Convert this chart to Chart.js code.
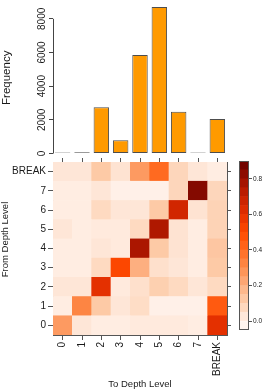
<!DOCTYPE html>
<html>
<head>
<meta charset="utf-8">
<script src="https://cdn.jsdelivr.net/npm/chart.js@4.4.1/dist/chart.umd.min.js"></script>
<style>
  html, body { margin: 0; padding: 0; background: #fff; }
  #wrap { position: relative; width: 266px; height: 390px; }
  canvas { position: absolute; left: 0; top: 0; }
</style>
</head>
<body>
<div id="wrap">
  <canvas id="barChart" width="266" height="390"></canvas>
  <canvas id="heatChart" width="266" height="390"></canvas>
  <canvas id="keyChart" width="266" height="390"></canvas>
</div>
<script>
// depth levels (columns = "to", rows = "from")
const toLevels = ['0', '1', '2', '3', '4', '5', '6', '7', 'BREAK'];
const fromLevels = ['0', '1', '2', '3', '4', '5', '6', '7', 'BREAK'];

// top histogram: how often each "to" level occurs
const frequency = [60, 80, 2750, 780, 5850, 8700, 2480, 60, 2050];
const freqTicks = [0, 2000, 4000, 6000, 8000];

// transition matrix, one row per "from" level (bottom to top)
const row0     = [0.26, 0.03, 0.01, 0.01, 0.02, 0.02, 0.02, 0.01, 0.60];
const row1     = [0.01, 0.32, 0.12, 0.03, 0.06, 0.00, 0.00, 0.00, 0.45];
const row2     = [0.03, 0.03, 0.60, 0.02, 0.05, 0.10, 0.07, 0.03, 0.07];
const row3     = [0.01, 0.01, 0.07, 0.51, 0.20, 0.05, 0.03, 0.01, 0.12];
const row4     = [0.01, 0.01, 0.03, 0.02, 0.76, 0.12, 0.04, 0.01, 0.13];
const row5     = [0.03, 0.01, 0.02, 0.02, 0.07, 0.75, 0.04, 0.01, 0.09];
const row6     = [0.01, 0.01, 0.07, 0.03, 0.03, 0.12, 0.66, 0.04, 0.09];
const row7     = [0.01, 0.01, 0.03, 0.00, 0.00, 0.00, 0.08, 0.84, 0.08];
const rowBreak = [0.03, 0.03, 0.12, 0.04, 0.26, 0.40, 0.08, 0.03, 0.01];
const transition = [row0, row1, row2, row3, row4, row5, row6, row7, rowBreak];

// colour key
const keyBreaks = [-0.05, 0, 0.05, 0.1, 0.15, 0.2, 0.25, 0.3, 0.35, 0.4, 0.45,
                   0.5, 0.55, 0.6, 0.65, 0.7, 0.75, 0.8, 0.85, 0.9];
const keyTicks = [0, 0.2, 0.4, 0.6, 0.8];

const FONT = 'Liberation Sans, Arial, Helvetica, sans-serif';
const axisGrey = '#555555';
const textCol = '#1a1a1a';

// colour ramp white -> orange -> dark red
const ramp = [
  [-0.05, [255, 248, 244]],
  [0.00, [255, 240, 232]],
  [0.05, [254, 224, 204]],
  [0.10, [253, 208, 176]],
  [0.15, [253, 192, 152]],
  [0.20, [253, 175, 128]],
  [0.30, [253, 140, 76]],
  [0.40, [255, 106, 32]],
  [0.50, [255, 74, 0]],
  [0.60, [228, 48, 0]],
  [0.70, [196, 32, 0]],
  [0.80, [154, 16, 0]],
  [0.90, [100, 0, 0]]
];
function heatColor(v) {
  if (v <= ramp[0][0]) return 'rgb(' + ramp[0][1].join(',') + ')';
  for (let i = 1; i < ramp.length; i++) {
    if (v <= ramp[i][0]) {
      const t = (v - ramp[i - 1][0]) / (ramp[i][0] - ramp[i - 1][0]);
      const a = ramp[i - 1][1], b = ramp[i][1];
      return 'rgb(' + a.map((c, k) => Math.round(c + (b[k] - c) * t)).join(',') + ')';
    }
  }
  return 'rgb(' + ramp[ramp.length - 1][1].join(',') + ')';
}

// R style y axis line: only from first to last tick
const axisLinePlugin = {
  id: 'axisLine',
  afterDraw(chart) {
    const y = chart.scales.y;
    const ctx = chart.ctx;
    ctx.save();
    ctx.strokeStyle = '#444';
    ctx.lineWidth = 1;
    ctx.beginPath();
    const x = Math.round(chart.chartArea.left) + 0.5;
    ctx.moveTo(x, y.getPixelForValue(freqTicks[0]));
    ctx.lineTo(x, y.getPixelForValue(freqTicks[freqTicks.length - 1]));
    ctx.stroke();
    ctx.restore();
  }
};

// frame around the colour key
const framePlugin = {
  id: 'frame',
  afterDatasetsDraw(chart) {
    const a = chart.chartArea;
    const ctx = chart.ctx;
    ctx.save();
    ctx.strokeStyle = axisGrey;
    ctx.lineWidth = 1;
    ctx.strokeRect(Math.round(a.left) + 0.5, Math.round(a.top) + 0.5,
      Math.round(a.right - a.left) - 1, Math.round(a.bottom - a.top) - 1);
    ctx.restore();
  }
};

// side label for the heatmap
const sideLabelPlugin = {
  id: 'sideLabel',
  afterDraw(chart) {
    const ctx = chart.ctx;
    const a = chart.chartArea;
    ctx.save();
    ctx.translate(5.5, (a.top + a.bottom) / 2 - 9);
    ctx.rotate(-Math.PI / 2);
    ctx.font = '9.5px ' + FONT;
    ctx.fillStyle = textCol;
    ctx.textAlign = 'center';
    ctx.textBaseline = 'middle';
    ctx.fillText('From Depth Level', 0, 0);
    ctx.restore();
  }
};

// ---------- top histogram ----------
new Chart(document.getElementById('barChart'), {
  type: 'bar',
  data: {
    labels: toLevels,
    datasets: [{
      data: frequency,
      backgroundColor: '#FF9A00',
      borderColor: '#4d4d4d',
      borderWidth: 1,
      borderSkipped: false,
      barPercentage: 0.8,
      categoryPercentage: 1
    }]
  },
  options: {
    responsive: false,
    animation: false,
    events: [],
    layout: { padding: { top: 2, bottom: 236.5, right: 39, left: 0 } },
    plugins: { legend: { display: false }, tooltip: { enabled: false } },
    scales: {
      x: { display: false },
      y: {
        min: 0,
        max: 9000,
        afterBuildTicks: s => { s.ticks = freqTicks.map(v => ({ value: v })); },
        afterFit: s => { s.width = 53; },
        border: { display: false },
        grid: { drawOnChartArea: false, tickLength: 4, color: '#444' },
        ticks: {
          minRotation: 90,
          crossAlign: 'center',
          padding: -4,
          color: textCol,
          font: { size: 10, family: FONT },
          callback: v => String(v)
        },
        title: {
          display: true,
          text: 'Frequency',
          color: textCol,
          padding: 0,
          font: { size: 11.5, family: FONT }
        }
      }
    }
  },
  plugins: [axisLinePlugin]
});

// ---------- transition heatmap ----------
new Chart(document.getElementById('heatChart'), {
  type: 'bar',
  data: {
    labels: toLevels,
    datasets: fromLevels.map((lvl, r) => ({
      label: lvl,
      data: toLevels.map(() => [r, r + 1]),
      backgroundColor: transition[r].map(heatColor),
      borderWidth: 0,
      barPercentage: 1,
      categoryPercentage: 1,
      grouped: false
    }))
  },
  options: {
    responsive: false,
    animation: false,
    events: [],
    layout: { padding: 0 },
    plugins: { legend: { display: false }, tooltip: { enabled: false } },
    scales: {
      x: {
        type: 'category',
        position: 'bottom',
        offset: true,
        afterFit: s => { s.height = 55; },
        border: { color: axisGrey },
        grid: { offset: false, drawOnChartArea: false, tickLength: 5, color: axisGrey },
        ticks: { minRotation: 90, maxRotation: 90, padding: 2, color: textCol, font: { size: 10, family: FONT } },
        title: { display: true, text: 'To Depth Level', color: textCol, padding: 0, font: { size: 9.5, family: FONT } }
      },
      x2: {
        type: 'category',
        position: 'top',
        offset: true,
        afterFit: s => { s.height = 162; },
        border: { color: axisGrey },
        grid: { offset: false, drawOnChartArea: false, tickLength: 4, color: axisGrey },
        ticks: { display: false }
      },
      y: {
        type: 'linear',
        position: 'left',
        min: 0,
        max: fromLevels.length,
        afterBuildTicks: s => { s.ticks = fromLevels.map((l, i) => ({ value: i + 0.5 })); },
        afterFit: s => { s.width = 53; },
        border: { color: axisGrey },
        grid: { drawOnChartArea: false, tickLength: 5, color: axisGrey },
        ticks: {
          padding: 2,
          color: textCol,
          font: { size: 10, family: FONT },
          callback: (v) => fromLevels[Math.floor(v)]
        }
      },
      y2: {
        type: 'linear',
        position: 'right',
        min: 0,
        max: fromLevels.length,
        afterBuildTicks: s => { s.ticks = fromLevels.map((l, i) => ({ value: i + 0.5 })); },
        afterFit: s => { s.width = 39; },
        border: { color: axisGrey },
        grid: { drawOnChartArea: false, tickLength: 4, color: axisGrey },
        ticks: { display: false }
      }
    }
  },
  plugins: [sideLabelPlugin]
});

// ---------- colour key ----------
const bands = keyBreaks.slice(0, -1).map((lo, i) => [lo, keyBreaks[i + 1]]);
new Chart(document.getElementById('keyChart'), {
  type: 'bar',
  data: {
    labels: [''],
    datasets: bands.map(b => ({
      data: [b],
      backgroundColor: heatColor((b[0] + b[1]) / 2),
      borderWidth: 0,
      barPercentage: 1,
      categoryPercentage: 1,
      grouped: false
    }))
  },
  options: {
    responsive: false,
    animation: false,
    events: [],
    layout: { padding: { left: 239, top: 161, bottom: 60, right: 0 } },
    plugins: { legend: { display: false }, tooltip: { enabled: false } },
    scales: {
      x: { display: false },
      y: {
        position: 'right',
        min: keyBreaks[0],
        max: keyBreaks[keyBreaks.length - 1],
        afterBuildTicks: s => { s.ticks = keyTicks.map(v => ({ value: v })); },
        afterFit: s => { s.width = 17; },
        border: { display: false },
        grid: { drawOnChartArea: false, tickLength: 3, color: axisGrey },
        ticks: {
          padding: 1,
          color: textCol,
          font: { size: 6.5, family: FONT },
          callback: v => v.toFixed(1)
        }
      }
    }
  },
  plugins: [framePlugin]
});
</script>
</body>
</html>
